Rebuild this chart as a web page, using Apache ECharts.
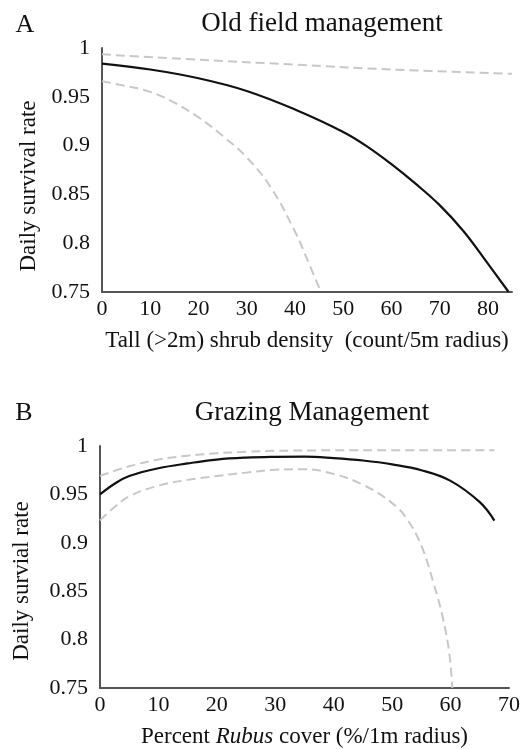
<!DOCTYPE html>
<html>
<head>
<meta charset="utf-8">
<script src="https://cdn.jsdelivr.net/npm/echarts@6/dist/echarts.min.js"></script>
<style>
  html, body { margin: 0; padding: 0; background: #fff; }
  #main { width: 527px; height: 749px; }
</style>
</head>
<body>
<div id="main"></div>
<script>
// A: old field management (tall shrub density)
var aFitX = [0, 10, 20, 30, 40, 50, 55, 60, 65, 70, 75, 80, 84.3];
var aFitY = [0.984, 0.978, 0.969, 0.956, 0.937, 0.914, 0.899, 0.881, 0.861, 0.839, 0.812, 0.779, 0.75];
var aUpX = [0, 20, 40, 60, 85];
var aUpY = [0.9935, 0.988, 0.983, 0.978, 0.9735];
var aLoX = [0, 5, 10, 15, 20, 25, 30, 35, 40, 43, 45.4];
var aLoY = [0.966, 0.961, 0.955, 0.944, 0.929, 0.910, 0.888, 0.857, 0.812, 0.778, 0.75];

// B: grazing management (Rubus cover)
var bFitX = [0, 2.5, 5, 10, 15, 20, 25, 30, 35, 40, 45, 50, 55, 60, 65, 67.5];
var bFitY = [0.950, 0.961, 0.969, 0.977, 0.982, 0.986, 0.988, 0.9888, 0.989, 0.9875, 0.985, 0.981, 0.975, 0.964, 0.942, 0.923];
var bUpX = [0, 5, 10, 15, 20, 25, 30, 40, 50, 60, 67.5];
var bUpY = [0.969, 0.979, 0.986, 0.990, 0.9925, 0.994, 0.995, 0.9955, 0.9955, 0.9955, 0.9955];
var bLoX = [0, 2.5, 5, 10, 15, 20, 25, 30, 35, 40, 45, 50, 52.5, 55, 57, 58.7, 59.8, 60.3];
var bLoY = [0.923, 0.937, 0.948, 0.959, 0.965, 0.969, 0.9725, 0.9755, 0.976, 0.971, 0.960, 0.941, 0.925, 0.897, 0.860, 0.822, 0.785, 0.75];

function pairs(xs, ys) {
  return xs.map(function (x, i) { return [x, ys[i]]; });
}

var FONT = "'Liberation Serif', 'DejaVu Serif', serif";
var axisLine = { lineStyle: { color: '#555', width: 2 } };

function xAxis(idx, max, name) {
  return {
    type: 'value', gridIndex: idx, min: 0, max: max, interval: 10,
    axisLine: axisLine, axisTick: { show: false }, splitLine: { show: false },
    axisLabel: { showMaxLabel: max % 10 === 0, fontFamily: FONT, fontSize: 22, color: '#111', margin: 6 },
    name: name, nameLocation: 'middle', nameGap: 37,
    nameTextStyle: {
      fontFamily: FONT, fontSize: 23, color: '#111',
      rich: { i: { fontFamily: FONT, fontSize: 23, color: '#111', fontStyle: 'italic' } }
    }
  };
}
function yAxis(idx) {
  return {
    type: 'value', gridIndex: idx, min: 0.75, max: 1, interval: 0.05,
    axisLine: Object.assign({ show: true }, axisLine), axisTick: { show: false }, splitLine: { show: false },
    axisLabel: {
      fontFamily: FONT, fontSize: 22, color: '#111', margin: 12,
      formatter: function (v) { return String(+v.toFixed(2)); }
    }
  };
}
function fit(idx, data) {
  return { type: 'line', xAxisIndex: idx, yAxisIndex: idx, data: data, symbol: 'none',
    smooth: 0.4, lineStyle: { color: '#111', width: 2.2 }, z: 3 };
}
function ci(idx, data) {
  return { type: 'line', xAxisIndex: idx, yAxisIndex: idx, data: data, symbol: 'none',
    smooth: 0.4, lineStyle: { color: '#c8c8c8', width: 2, type: [9, 5] }, z: 2 };
}
function txt(x, y, s, size, rot) {
  return { type: 'text', x: x, y: y, rotation: rot || 0,
    style: { text: s, fontFamily: FONT, fontSize: size, fill: '#111', align: 'center', verticalAlign: 'middle' } };
}

var chart = echarts.init(document.getElementById('main'), null, { renderer: 'canvas' });
chart.setOption({
  animation: false,
  backgroundColor: '#fff',
  grid: [
    { left: 102, right: 15, top: 48, height: 244 },
    { left: 100, right: 18, top: 446, height: 245 }
  ],
  xAxis: [
    xAxis(0, 85, 'Tall (>2m) shrub density  (count/5m radius)'),
    xAxis(1, 70, 'Percent {i|Rubus} cover (%/1m radius)')
  ],
  yAxis: [yAxis(0), yAxis(1)],
  graphic: [
    txt(25, 25, 'A', 26),
    txt(322, 24, 'Old field management', 27),
    txt(24, 413, 'B', 26),
    txt(312, 413, 'Grazing Management', 27),
    txt(29, 186, 'Daily survival rate', 23, Math.PI / 2),
    txt(22, 581, 'Daily survial rate', 23, Math.PI / 2)
  ],
  series: [
    ci(0, pairs(aUpX, aUpY)),
    ci(0, pairs(aLoX, aLoY)),
    fit(0, pairs(aFitX, aFitY)),
    ci(1, pairs(bUpX, bUpY)),
    ci(1, pairs(bLoX, bLoY)),
    fit(1, pairs(bFitX, bFitY))
  ]
});
</script>
</body>
</html>
